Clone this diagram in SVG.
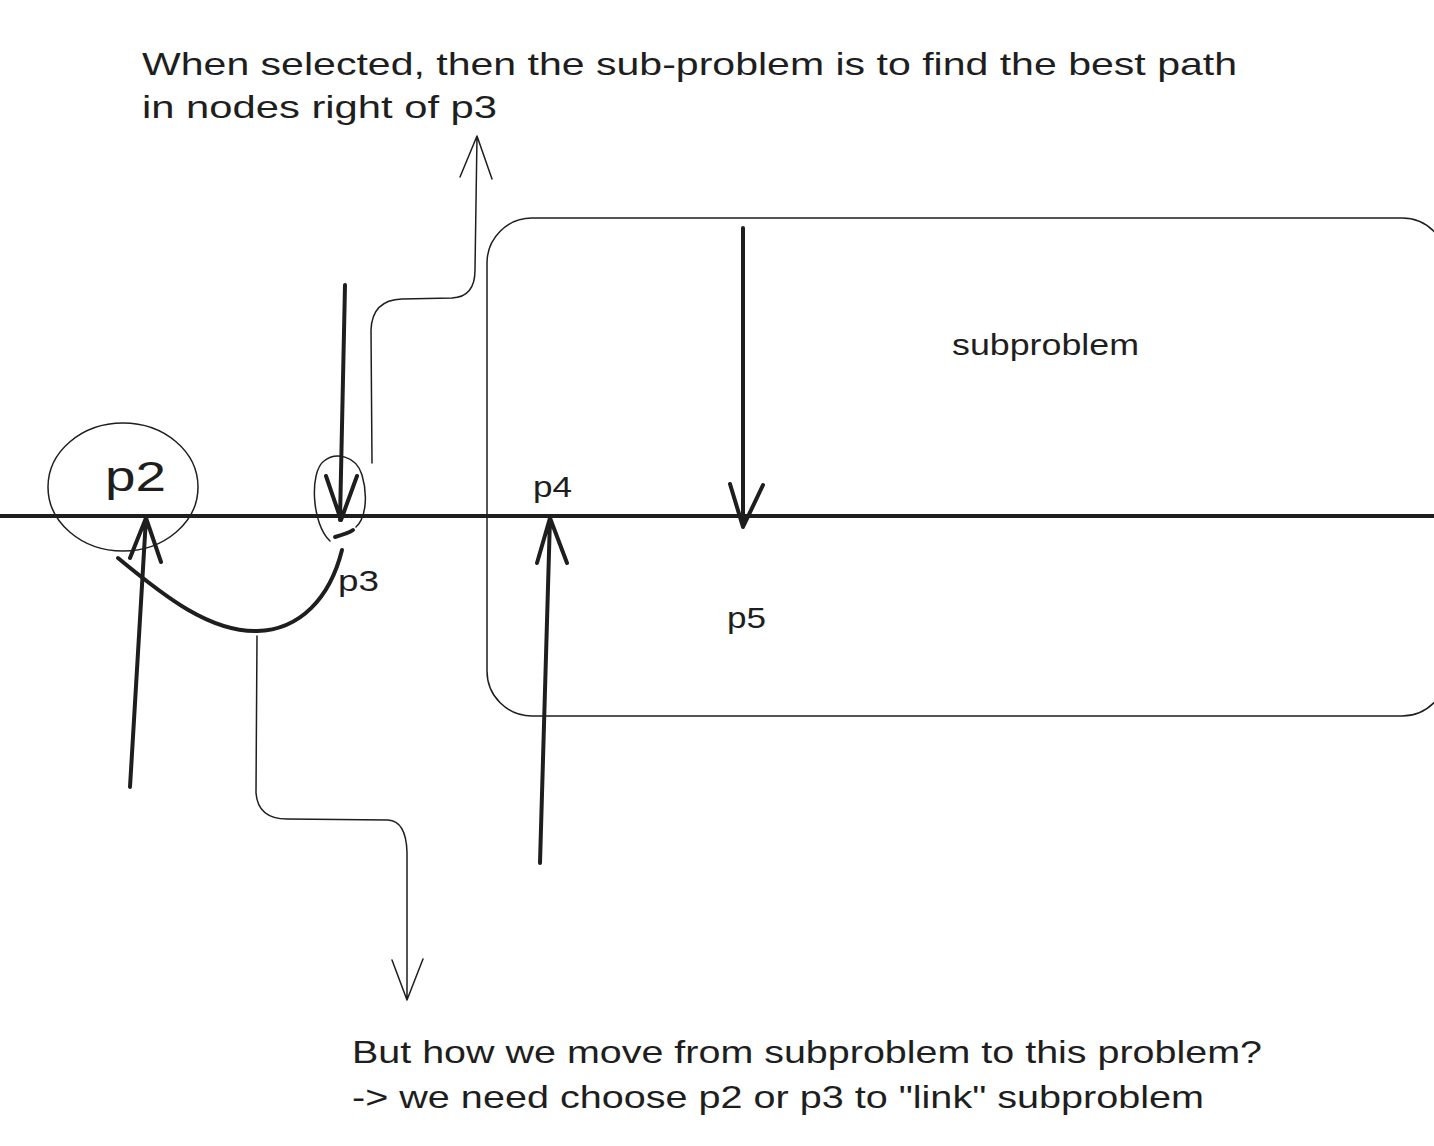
<svg xmlns="http://www.w3.org/2000/svg" width="1434" height="1146" viewBox="0 0 1434 1146">
<style>
.t{font-family:"Liberation Sans","DejaVu Sans",sans-serif;fill:#1e1e1e}
.thin{fill:none;stroke:#1e1e1e;stroke-width:1.5;stroke-linecap:round;stroke-linejoin:round}
.thick{fill:none;stroke:#1e1e1e;stroke-width:4;stroke-linecap:round;stroke-linejoin:round}
</style>
<rect width="1434" height="1146" fill="#ffffff"/>
<g id="subproblem-box">
<rect x="487" y="218" width="960" height="498" rx="45" ry="45" class="thin"/>
<text class="t" x="952" y="355" font-size="30" textLength="187" lengthAdjust="spacingAndGlyphs">subproblem</text>
</g>
<g id="axis">
<line x1="0" y1="516" x2="1434" y2="516" class="thick"/>
</g>
<g id="p2">
<ellipse cx="123" cy="487" rx="75" ry="64" class="thin"/>
<text class="t" x="105" y="491" font-size="42" textLength="61" lengthAdjust="spacingAndGlyphs">p2</text>
</g>
<g id="p3">
<path d="M330,541 C312,525 309,472 324,461 C335,452 356,455 362,475 C368,495 366,518 356,527" class="thin"/>
<path d="M335,537 C342,535 349,533 353,530" class="thick" stroke-width="3"/>
<text class="t" x="338" y="591" font-size="30" textLength="41" lengthAdjust="spacingAndGlyphs">p3</text>
</g>
<g id="p4">
<text class="t" x="533" y="497" font-size="30" textLength="39" lengthAdjust="spacingAndGlyphs">p4</text>
</g>
<g id="p5">
<text class="t" x="727" y="628" font-size="30" textLength="39" lengthAdjust="spacingAndGlyphs">p5</text>
</g>
<g id="notes">
<text class="t" x="142" y="75" font-size="32" textLength="1095" lengthAdjust="spacingAndGlyphs">When selected, then the sub-problem is to find the best path</text>
<text class="t" x="142" y="118" font-size="32" textLength="355" lengthAdjust="spacingAndGlyphs">in nodes right of p3</text>
<text class="t" x="352" y="1063" font-size="32" textLength="910" lengthAdjust="spacingAndGlyphs">But how we move from subproblem to this problem?</text>
<text class="t" x="352" y="1108" font-size="32" textLength="852" lengthAdjust="spacingAndGlyphs">-&gt; we need choose p2 or p3 to "link" subproblem</text>
</g>
<g id="connectors">
<path d="M118,558 C165,597 210,632 257,631" class="thick" stroke-width="4.5"/>
<path d="M257,631 C300,630 330,598 342,550" class="thick" stroke-width="8"/>
<path d="M345,285 L340,520 M326,476 L341,520 L357,476" class="thick"/>
<path d="M130,787 L146,518 M130,558 L146,518 L161,562" class="thick"/>
<path d="M743,228 L743,527 M730,484 L743,527 L763,485" class="thick"/>
<path d="M540,863 L550,518 M537,563 L550,518 L567,563" class="thick"/>
<path d="M372,463 L371,330 Q372,300 402,299 L452,298 Q475,297 475,270 L477,136 M460,177 L477,136 L492,179" class="thin"/>
<path d="M257,636 L256,793 Q258,819 287,819 L388,820 Q406,821 407,852 L407,1000 M392,960 L407,1000 L423,959" class="thin"/>
</g>
</svg>
